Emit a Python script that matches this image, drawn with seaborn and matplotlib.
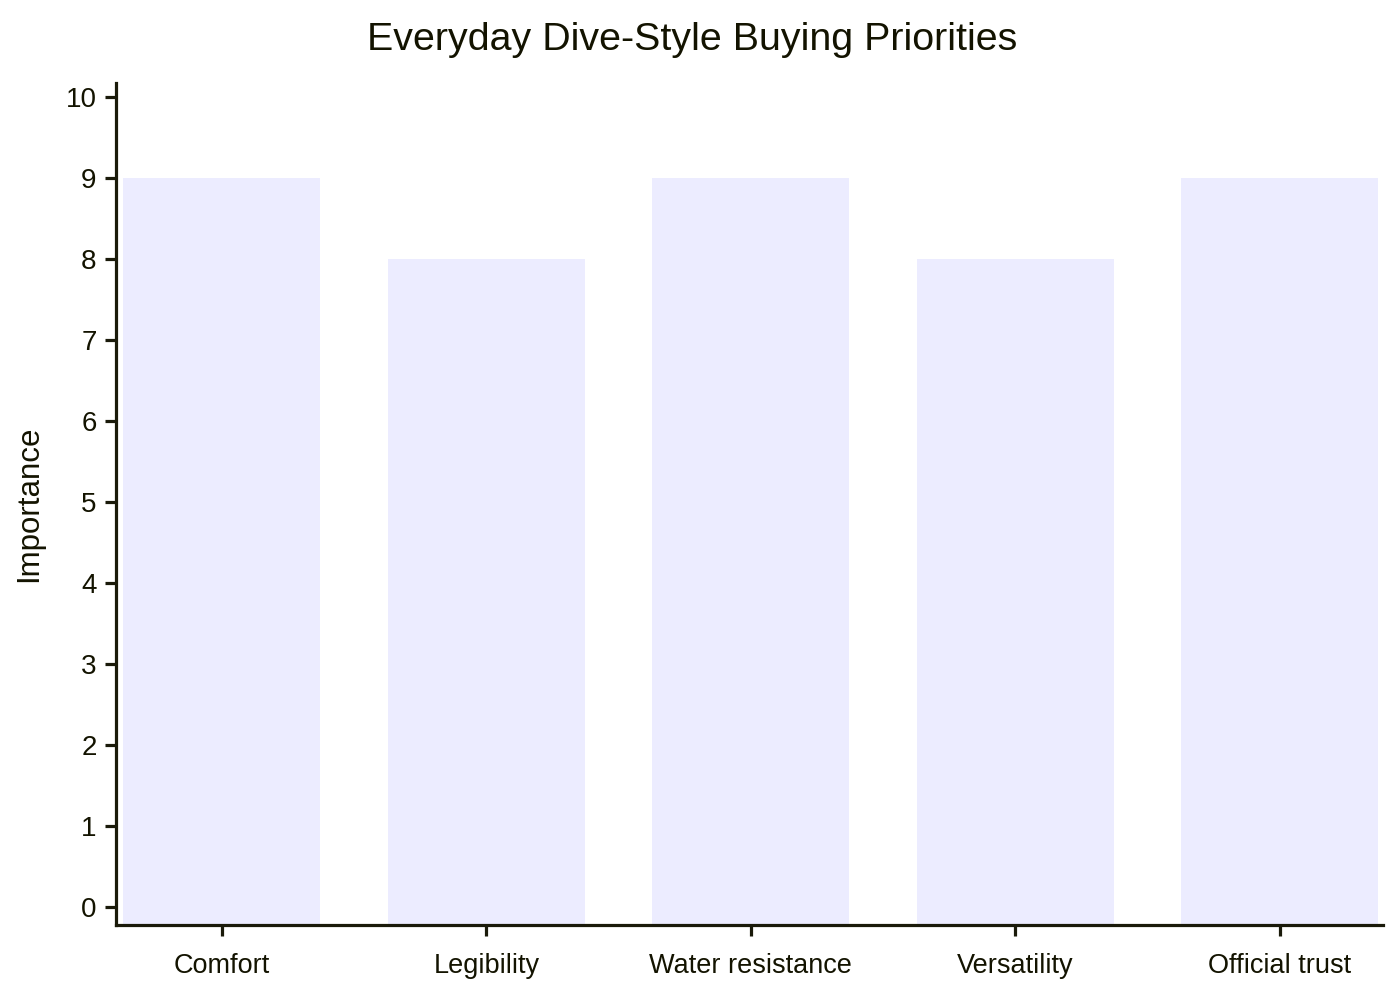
import matplotlib
matplotlib.use("Agg")
import matplotlib.pyplot as plt
import seaborn as sns
import pandas as pd

categories = ["Comfort", "Legibility", "Water resistance", "Versatility", "Official trust"]
importance = [9, 8, 9, 8, 9]
y_ticks = [0, 1, 2, 3, 4, 5, 6, 7, 8, 9, 10]
title = "Everyday Dive-Style Buying Priorities"
y_label = "Importance"

sns.set_theme(style="white")
plt.rcParams["font.family"] = ["Liberation Sans", "DejaVu Sans"]

TEXT = "#131300"
AXIS = "#1a1a0a"
BAR = "#ECECFF"

df = pd.DataFrame({"category": categories, "importance": importance})

fig = plt.figure(figsize=(14, 10), dpi=100)
ax = fig.add_axes([116 / 1400, 1 - 925 / 1000, (1383 - 116) / 1400, (925 - 83) / 1000])

sns.barplot(data=df, x="category", y="importance", color=BAR, saturation=1,
            width=0.745, ax=ax, edgecolor="none", linewidth=0)

ymin, ymax = -0.222, 10.17
ax.set_ylim(ymin, ymax)
ax.set_xlim(-0.4, 4.39)
# extend bars down to the plot floor, as in the reference
for p in ax.patches:
    top = p.get_y() + p.get_height()
    p.set_y(ymin)
    p.set_height(top - ymin)

ax.set_yticks(y_ticks)
ax.set_yticklabels([str(t) for t in y_ticks])

for s in ["top", "right"]:
    ax.spines[s].set_visible(False)
for s in ["left", "bottom"]:
    ax.spines[s].set_color(AXIS)
    ax.spines[s].set_linewidth(2.3)

ax.tick_params(axis="y", direction="out", length=8, width=2.3, color=AXIS,
               labelsize=20, labelcolor=TEXT, pad=6, left=True)
ax.tick_params(axis="x", direction="out", length=8, width=2.3, color=AXIS,
               labelsize=19.5, labelcolor=TEXT, pad=12, bottom=True)

ax.set_xlabel("")
ax.set_ylabel(y_label, fontsize=22.5, color=TEXT)
ax.yaxis.set_label_coords(-0.057, 0.5)

fig.text(692 / 1400, 1 - 40 / 1000, title, ha="center", va="center",
         fontsize=28.4, color=TEXT)

fig.savefig("out.png", dpi=100, facecolor="white")
